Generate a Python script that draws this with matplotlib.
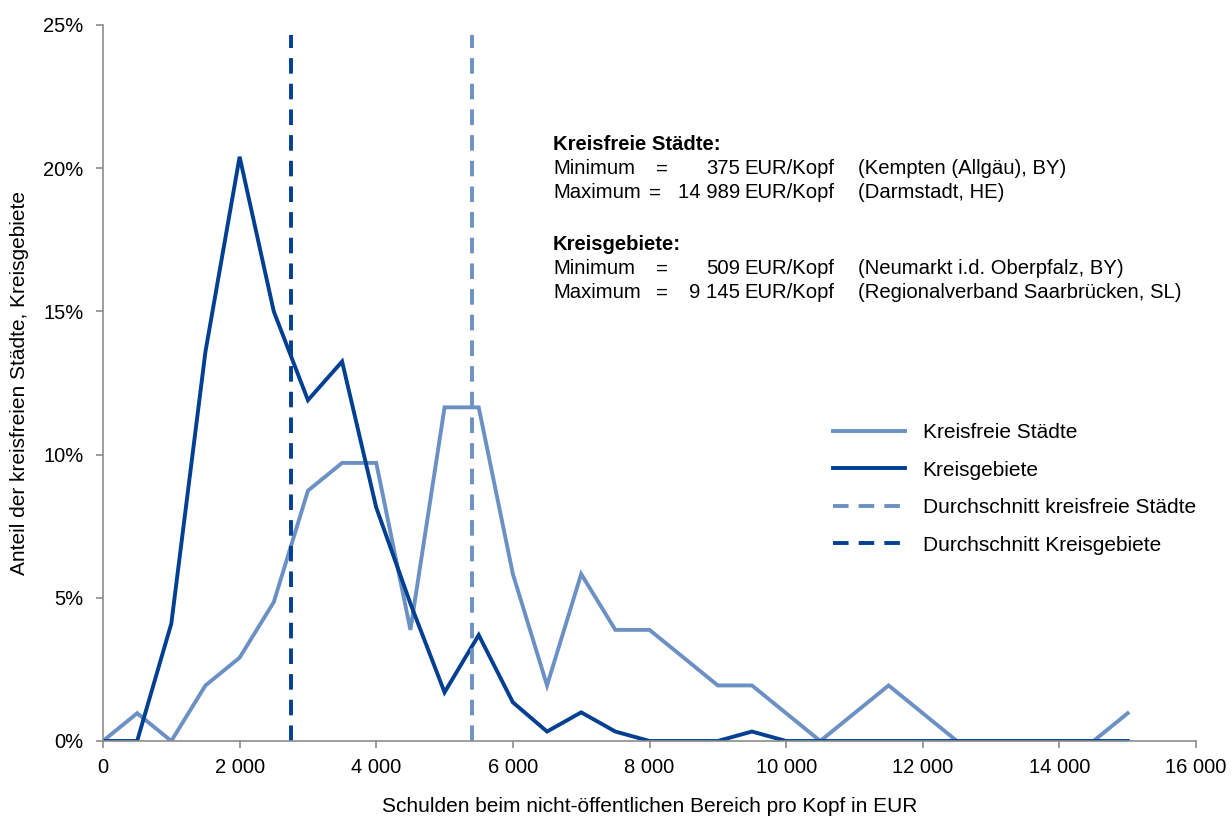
import matplotlib
matplotlib.use("Agg")
import matplotlib.pyplot as plt
from matplotlib.ticker import FuncFormatter

plt.rcParams['font.family'] = ['Liberation Sans', 'DejaVu Sans']

# Klassen (EUR pro Kopf)
schulden = [0, 500, 1000, 1500, 2000, 2500, 3000, 3500, 4000, 4500, 5000,
            5500, 6000, 6500, 7000, 7500, 8000, 8500, 9000, 9500, 10000,
            10500, 11000, 11500, 12000, 12500, 13000, 13500, 14000, 14500, 15000]

# Anteile in %
kreisfreie = [0, 0.97, 0, 1.94, 2.91, 4.85, 8.74, 9.71, 9.71, 3.88, 11.65,
              11.65, 5.83, 1.94, 5.83, 3.88, 3.88, 2.91, 1.94, 1.94, 0.97,
              0, 0.97, 1.94, 0.97, 0, 0, 0, 0, 0, 0.97]
kreisgebiete = [0, 0, 4.1, 13.6, 20.4, 15.0, 11.9, 13.25, 8.15, 4.8, 1.7,
                3.7, 1.35, 0.33, 1.0, 0.33, 0, 0, 0, 0.33, 0,
                0, 0, 0, 0, 0, 0, 0, 0, 0, 0]

avg_kreisfreie = 5403
avg_kreisgebiete = 2752
avg_top = 24.65

c_light = '#6b90c4'
c_dark = '#003f91'
grey = '#8c8c8c'
fs = 15

fig = plt.figure(figsize=(12.32, 8.16), dpi=100)
ax = fig.add_axes([103/1232, 1-741/816, (1196-103)/1232, (741-25)/816])

ax.plot(schulden, kreisfreie, color=c_light, lw=2.8, label='Kreisfreie Städte',
        solid_joinstyle='miter')
ax.plot(schulden, kreisgebiete, color=c_dark, lw=2.8, label='Kreisgebiete',
        solid_joinstyle='miter')
ax.plot([avg_kreisfreie, avg_kreisfreie], [0, avg_top], color=c_light, lw=2.8,
        dashes=(4, 2.6), label='Durchschnitt kreisfreie Städte')
ax.plot([avg_kreisgebiete, avg_kreisgebiete], [0, avg_top], color=c_dark, lw=2.8,
        dashes=(4, 2.6), label='Durchschnitt Kreisgebiete')

ax.set_xlim(0, 16000)
ax.set_ylim(0, 25)
ax.set_xticks(range(0, 16001, 2000))
ax.set_yticks(range(0, 26, 5))
ax.xaxis.set_major_formatter(FuncFormatter(lambda v, p: f'{int(v):,}'.replace(',', ' ')))
ax.yaxis.set_major_formatter(FuncFormatter(lambda v, p: f'{int(v)}%'))

for s in ['top', 'right']:
    ax.spines[s].set_visible(False)
for s in ['left', 'bottom']:
    ax.spines[s].set_color(grey)
    ax.spines[s].set_linewidth(1.2)
ax.tick_params(direction='out', length=5, width=1.2, colors=grey,
               labelsize=14.5, labelcolor='black')
ax.tick_params(axis='x', pad=7)
ax.tick_params(axis='y', pad=9)

ax.set_xlabel('Schulden beim nicht-öffentlichen Bereich pro Kopf in EUR',
              fontsize=fs, labelpad=15)
ax.set_ylabel('Anteil der kreisfreien Städte, Kreisgebiete', fontsize=fs, labelpad=10)

ax.legend(loc='upper left', bbox_to_anchor=(833/1232, 1-423/816),
          bbox_transform=fig.transFigure, frameon=False, fontsize=fs,
          handlelength=3.45, handletextpad=0.85, labelspacing=0.89,
          borderpad=0, borderaxespad=0)

# Textblock Minimum / Maximum
def px(x, y):
    return x/1232, 1-y/816

fs_box = 14.6
blocks = [
    (145, 'Kreisfreie Städte:', [('Minimum', 662, '375', '(Kempten (Allgäu), BY)'),
                                 ('Maximum', 655, '14 989', '(Darmstadt, HE)')]),
    (245, 'Kreisgebiete:', [('Minimum', 662, '509', '(Neumarkt i.d. Oberpfalz, BY)'),
                            ('Maximum', 662, '9 145', '(Regionalverband Saarbrücken, SL)')]),
]
for y0, head, rows in blocks:
    fig.text(*px(553, y0), head, fontsize=fs_box, fontweight='bold', va='center')
    for i, (lab, xeq, val, ort) in enumerate(rows):
        y = y0 + 24 * (i + 1)
        fig.text(*px(553, y), lab, fontsize=fs_box, va='center')
        fig.text(*px(xeq, y), '=', fontsize=fs_box, va='center', ha='center')
        fig.text(*px(740, y), val, fontsize=fs_box, va='center', ha='right')
        fig.text(*px(744, y), 'EUR/Kopf', fontsize=fs_box, va='center')
        fig.text(*px(858, y), ort, fontsize=fs_box, va='center')

fig.savefig('out.png', dpi=100)
